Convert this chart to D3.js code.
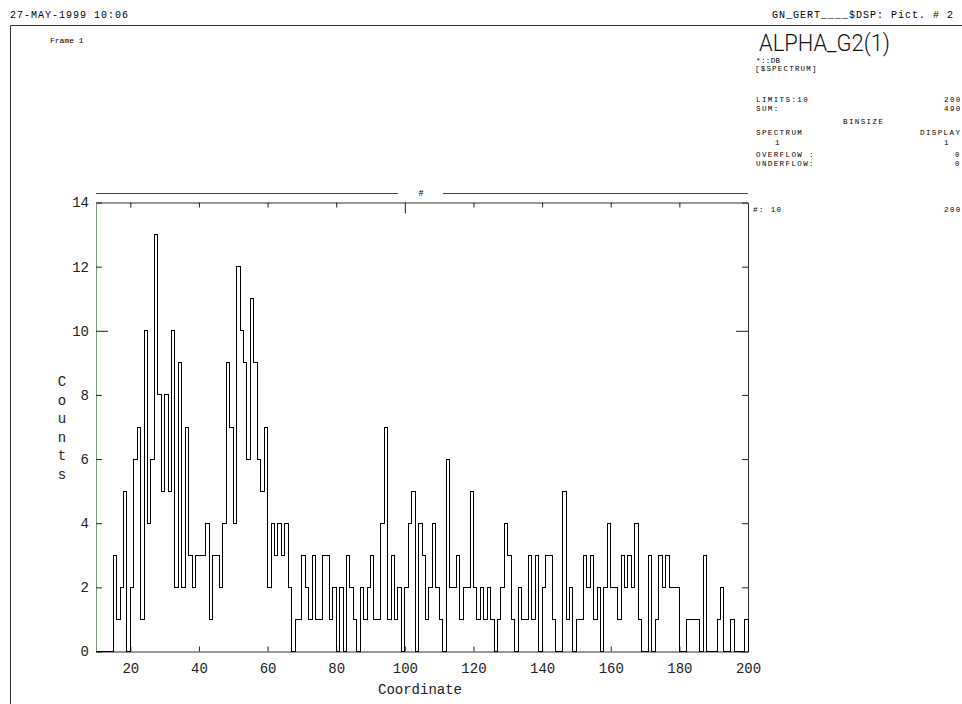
<!DOCTYPE html>
<html>
<head>
<meta charset="utf-8">
<script src="https://cdn.jsdelivr.net/npm/d3@7"></script>
<style>
  html, body { margin: 0; padding: 0; background: #fff; }
  svg { display: block; }
  .mono { font-family: "Liberation Mono", "DejaVu Sans Mono", monospace; fill: #000; }
</style>
</head>
<body>
<svg id="chart" width="962" height="704"></svg>
<script>
// Histogram ALPHA_G2(1): counts per unit bin, coordinate 10 .. 200
const binLow = 10;
const binWidth = 1;
const counts = [
  0, 0, 0, 0, 0, 3, 1, 2, 5, 0,        // 10-19
  2, 6, 7, 1, 10, 4, 6, 13, 8, 5,      // 20-29
  8, 5, 10, 2, 9, 2, 7, 3, 2, 3,       // 30-39
  3, 3, 4, 1, 3, 3, 2, 4, 9, 7,        // 40-49
  4, 12, 10, 9, 6, 11, 9, 6, 5, 7,     // 50-59
  2, 4, 3, 4, 3, 4, 2, 0, 1, 1,        // 60-69
  3, 2, 1, 3, 1, 1, 3, 3, 1, 2,        // 70-79
  0, 2, 0, 3, 2, 1, 0, 2, 1, 2,        // 80-89
  3, 1, 1, 4, 7, 1, 3, 1, 2, 0,        // 90-99
  2, 4, 5, 0, 4, 3, 1, 2, 4, 2,        // 100-109
  1, 0, 6, 2, 2, 3, 1, 2, 2, 5,        // 110-119
  2, 1, 2, 1, 2, 1, 0, 1, 2, 4,        // 120-129
  3, 1, 0, 2, 1, 1, 3, 1, 3, 0,        // 130-139
  2, 3, 3, 1, 0, 0, 5, 1, 2, 0,        // 140-149
  1, 1, 3, 2, 3, 1, 2, 0, 2, 4,        // 150-159
  2, 2, 1, 3, 2, 3, 2, 4, 1, 0,        // 160-169
  0, 3, 0, 1, 3, 2, 3, 2, 2, 2,        // 170-179
  0, 0, 1, 1, 1, 1, 0, 3, 0, 0,        // 180-189
  0, 1, 2, 0, 0, 1, 0, 0, 0, 1         // 190-199
];

const xDomain = [10, 200];
const yDomain = [0, 14];
const xTickValues = [20, 40, 60, 80, 100, 120, 140, 160, 180, 200];
const yTickValues = [0, 2, 4, 6, 8, 10, 12, 14];

const xTitle = "Coordinate";
const yTitle = "Counts";
const dateStamp = "27-MAY-1999 10:06";
const frameLabel = "Frame 1";
const pictLabel = "GN_GERT____$DSP: Pict.  # 2";
const histName = "ALPHA_G2(1)";
const histSource = "*::DB";
const histType = "[$SPECTRUM]";
const limitsLow = "LIMITS:10";
const limitsHigh = "200";
const sumLabel = "SUM:";
const sumValue = "490";
const binsizeLabel = "BINSIZE";
const spectrumLabel = "SPECTRUM";
const displayLabel = "DISPLAY";
const spectrumBin = "1";
const displayBin = "1";
const overflowLabel = "OVERFLOW :";
const underflowLabel = "UNDERFLOW:";
const overflowValue = "0";
const underflowValue = "0";
const rangeLow = "#: 10";
const rangeHigh = "200";

const svg = d3.select("#chart");

// page frame
svg.append("path")
  .attr("d", "M10.5,704 V25.5 H962")
  .attr("fill", "none").attr("stroke", "#333").attr("stroke-width", 1);

// header texts
function small(x, y, txt, size, spacing, anchor) {
  return svg.append("text").attr("class", "mono")
    .attr("x", x).attr("y", y)
    .attr("text-anchor", anchor || "start")
    .style("font-size", size + "px")
    .style("letter-spacing", (spacing || 0) + "px")
    .text(txt);
}
small(10, 18, dateStamp, 10, 1);
small(772, 18, pictLabel, 10, 1);
small(50, 43, frameLabel, 8, 0);

svg.append("text")
  .attr("x", 759).attr("y", 51)
  .attr("textLength", 131).attr("lengthAdjust", "spacingAndGlyphs")
  .style("font-family", "Roboto, 'Liberation Sans', sans-serif")
  .style("font-weight", 300)
  .style("font-size", "24px")
  .attr("fill", "#111")
  .text(histName);

const fs = 7.5, ls = 1.4;
small(756, 62.5, histSource, fs, 0.4);
small(755, 70.5, histType, fs, 1.2);
small(756, 102, limitsLow, fs, ls);
small(944, 102, limitsHigh, fs, ls);
small(756, 110.5, sumLabel, fs, ls);
small(944, 110.5, sumValue, fs, ls);
small(843, 124, binsizeLabel, fs, ls);
small(756, 135, spectrumLabel, fs, ls);
small(920, 135, displayLabel, fs, ls);
small(775, 145, spectrumBin, fs, ls);
small(944, 145, displayBin, fs, ls);
small(756, 157, overflowLabel, fs, ls);
small(955, 157, overflowValue, fs, ls);
small(756, 166, underflowLabel, fs, ls);
small(955, 166, underflowValue, fs, ls);
small(753, 212, rangeLow, fs, ls);
small(944, 212, rangeHigh, fs, ls);

// scales
const x = d3.scaleLinear().domain(xDomain).range([96, 748]);
const y = d3.scaleLinear().domain(yDomain).range([651.5, 202.5]);

// range bar above the plot with the "#" marker
const barY = 193.5;
svg.append("line").attr("x1", x(xDomain[0])).attr("x2", 398).attr("y1", barY).attr("y2", barY)
  .attr("stroke", "#444");
svg.append("line").attr("x1", 443).attr("x2", x(xDomain[1])).attr("y1", barY).attr("y2", barY)
  .attr("stroke", "#444");
small(421, 196, "#", 8.5, 0, "middle");

// axes
const tickFont = "'Liberation Mono', 'DejaVu Sans Mono', monospace";

const gBottom = svg.append("g").attr("transform", `translate(0,${y(0)})`)
  .call(d3.axisBottom(x).tickValues(xTickValues).tickSize(-5).tickPadding(12).tickSizeOuter(0));
const gTop = svg.append("g").attr("transform", `translate(0,${y(14)})`)
  .call(d3.axisTop(x).tickValues(xTickValues).tickSize(-5).tickFormat("").tickSizeOuter(0));
const gLeft = svg.append("g").attr("transform", `translate(${x(10)},0)`)
  .call(d3.axisLeft(y).tickValues(yTickValues).tickSize(-6).tickPadding(7).tickSizeOuter(0));
const gRight = svg.append("g").attr("transform", `translate(${x(200)},0)`)
  .call(d3.axisRight(y).tickValues(yTickValues).tickSize(-6).tickFormat("").tickSizeOuter(0));

[gBottom, gTop, gLeft, gRight].forEach(g => {
  g.select(".domain").attr("stroke", "#333");
  g.selectAll(".tick line").attr("stroke", "#222");
  g.selectAll("text")
    .style("font-family", tickFont)
    .style("font-size", "14px")
    .attr("fill", "#222");
});
gLeft.select(".domain").attr("stroke", "#7f9a7f");
// longer marks at the decade positions
gTop.selectAll(".tick").filter(d => d === 100).select("line").attr("y2", 11);
gLeft.selectAll(".tick").filter(d => d === 10).select("line").attr("x2", 12);
gRight.selectAll(".tick").filter(d => d === 10).select("line").attr("x2", -12);
gBottom.selectAll(".tick").filter(d => d === 200).select("line").remove();
gTop.selectAll(".tick").filter(d => d === 200).select("line").remove();

// axis titles
svg.append("text")
  .attr("x", 420).attr("y", 694)
  .attr("text-anchor", "middle")
  .style("font-family", tickFont).style("font-size", "14px")
  .attr("fill", "#222")
  .text(xTitle);

svg.append("g").selectAll("text")
  .data(yTitle.split(""))
  .join("text")
  .attr("x", 62)
  .attr("y", (d, i) => 386 + i * 18.5)
  .attr("text-anchor", "middle")
  .style("font-family", tickFont).style("font-size", "14px")
  .attr("fill", "#222")
  .text(d => d);

// histogram outline (step curve)
const pts = [{ v: binLow, c: 0 }]
  .concat(counts.map((c, i) => ({ v: binLow + i * binWidth, c })))
  .concat([{ v: binLow + counts.length * binWidth, c: counts[counts.length - 1] },
           { v: binLow + counts.length * binWidth, c: 0 }]);

const line = d3.line()
  .x(d => x(d.v))
  .y(d => y(d.c))
  .curve(d3.curveStepAfter);

svg.append("path")
  .datum(pts)
  .attr("d", line)
  .attr("fill", "none")
  .attr("stroke", "#000")
  .attr("stroke-width", 1)
  .attr("shape-rendering", "crispEdges");
</script>
</body>
</html>
